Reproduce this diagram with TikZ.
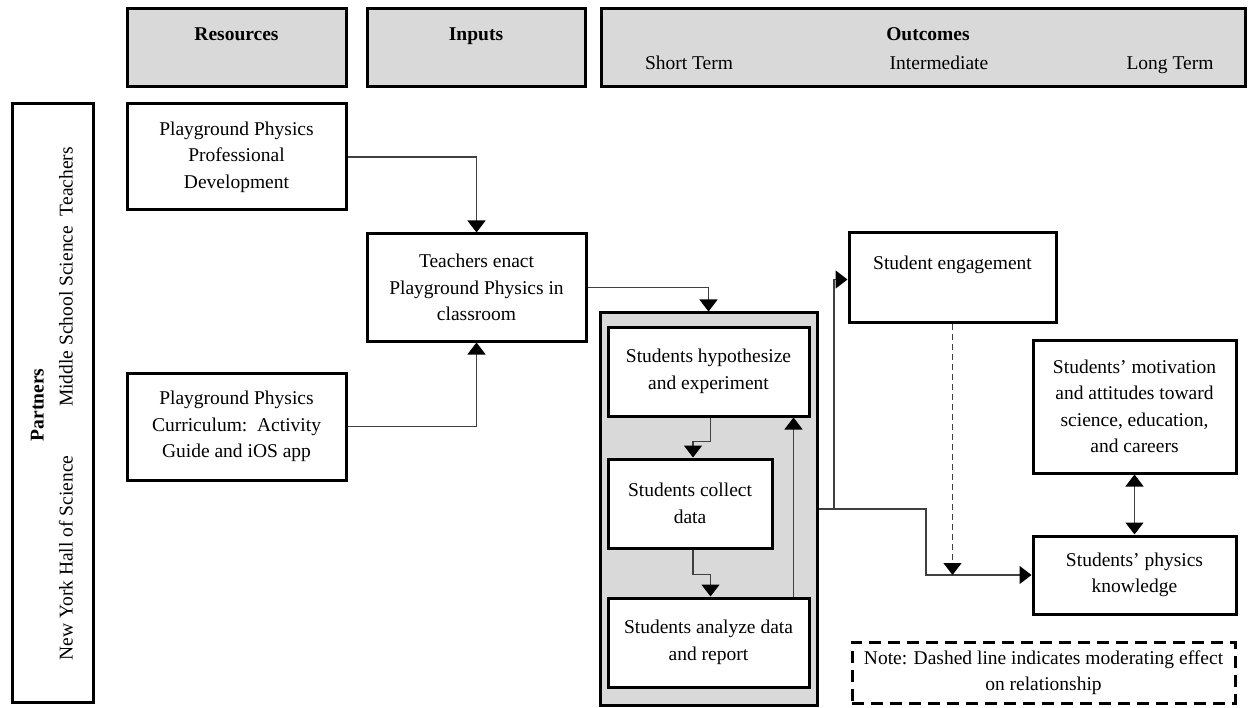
\documentclass[tikz,border=0pt]{standalone}
\usepackage{fontspec}
\setmainfont{Liberation Serif}
\usetikzlibrary{arrows.meta}
\definecolor{hdrgray}{HTML}{D9D9D9}
\definecolor{lncol}{HTML}{404040}
\newcommand\myfs{\fontsize{19.5}{26.5}\selectfont}
\begin{document}
\begin{tikzpicture}[x=1pt,y=-1pt,
  every node/.style={font=\myfs, inner sep=0pt},
  box/.style={draw=black, line width=3pt, fill=white, align=center},
  hdr/.style={draw=black, line width=3pt, fill=hdrgray},
  bold/.style={font=\myfs\bfseries},
  oneline/.style={text height=13.5pt, text depth=4.5pt},
  conn/.style={draw=lncol, line width=1.4pt},
  tip/.style={-{Triangle[width=18pt,length=12pt,color=black]}},
  dtip/.style={{Triangle[width=18pt,length=12pt,color=black]}-{Triangle[width=18pt,length=12pt,color=black]}},
  moddash/.style={dash pattern=on 6pt off 4pt},
  notedash/.style={dash pattern=on 12pt off 7pt}]
\useasboundingbox (0,0) rectangle (1257,708);

% headers
\node[hdr, minimum width=219pt, minimum height=78pt] (res) at (236.5,48) {};
\node[hdr, minimum width=218pt, minimum height=78pt] (inp) at (476,48) {};
\node[hdr, minimum width=644pt, minimum height=78pt] (out) at (923,48) {};
\node[bold, oneline] (resT) at (236.5,36) {Resources};
\node[bold, oneline] (inpT) at (476,36) {Inputs};
\node[bold, oneline] (outT) at (928,36) {Outcomes};
\node[oneline] (st) at (689,65) {Short Term};
\node[oneline] (im) at (939,65) {Intermediate};
\node[oneline] (lt) at (1170,65) {Long Term};

% partners
\node[draw=black, line width=3pt, minimum width=81pt, minimum height=598pt] (part) at (52.5,403) {};
\node[bold, oneline, rotate=90] (partT) at (39,405) {Partners};
\node[oneline, rotate=90] (nyh) at (68,558) {New York Hall of Science};
\node[oneline, rotate=90] (mst) at (68,277) {Middle School Science\ \ Teachers};

% resources / inputs
\node[box, minimum width=219pt, minimum height=106pt] (pd) at (236.5,157) {Playground Physics\\Professional\\Development};
\node[box, minimum width=219pt, minimum height=107pt] (cur) at (236.5,426.5) {Playground Physics\\Curriculum:\ \ Activity\\Guide and iOS app};
\node[box, minimum width=219pt, minimum height=107pt] (teach) at (476.5,287.5) {Teachers enact\\Playground Physics in\\classroom};

% group
\node[draw=black, line width=3pt, fill=hdrgray, minimum width=217pt, minimum height=392pt] (grp) at (708.5,509) {};
\node[box, minimum width=201pt, minimum height=89pt] (hyp) at (708.5,371.5) {Students hypothesize\\and experiment};
\node[box, minimum width=164pt, minimum height=89pt] (col) at (690,503.5) {Students collect\\data};
\node[box, minimum width=201pt, minimum height=89pt] (ana) at (708.5,642.5) {Students analyze data\\and report};

% outcomes
\node[box, minimum width=207pt, minimum height=89pt] (eng) at (952.5,277.5) {Student engagement\\[3pt]~};
\node[box, minimum width=203pt, minimum height=133pt] (mot) at (1134.5,406.5) {Students’ motivation\\and attitudes toward\\science, education,\\and careers};
\node[box, minimum width=203pt, minimum height=78pt] (phy) at (1134.5,575) {Students’ physics\\knowledge};
\node[box, notedash, minimum width=383pt, minimum height=61pt] (note) at (1043.5,672.5) {Note: Dashed line indicates moderating effect\\on relationship};

% connectors
\draw[conn, tip] (pd.east) -| (teach.north);
\draw[conn, tip] (cur.east) -| (teach.south);
\draw[conn, tip] (teach.east) -| (grp.north);
\draw[conn, tip] ([xshift=2pt]hyp.south) -- ++(0,24) -| ([xshift=3pt]col.north);
\draw[conn, tip] ([xshift=3pt]col.south) -- ++(0,25) -| ([xshift=2pt]ana.north);
\draw[conn, tip] ([xshift=-17pt]ana.north east) -- ([xshift=-17pt]hyp.south east);
\coordinate (j1) at (834,509);
\coordinate (j2) at (926,509);
\draw[conn, tip] (grp.east) -- (j1) |- ([yshift=-2pt]eng.west);
\draw[conn, tip] (j1) -- (j2) |- (phy.west);
\coordinate (m) at (eng.south |- phy.west);
\draw[conn, moddash, tip] (eng.south) -- (m);
\draw[conn, dtip] (mot.south) -- (phy.north);
\end{tikzpicture}
\end{document}
